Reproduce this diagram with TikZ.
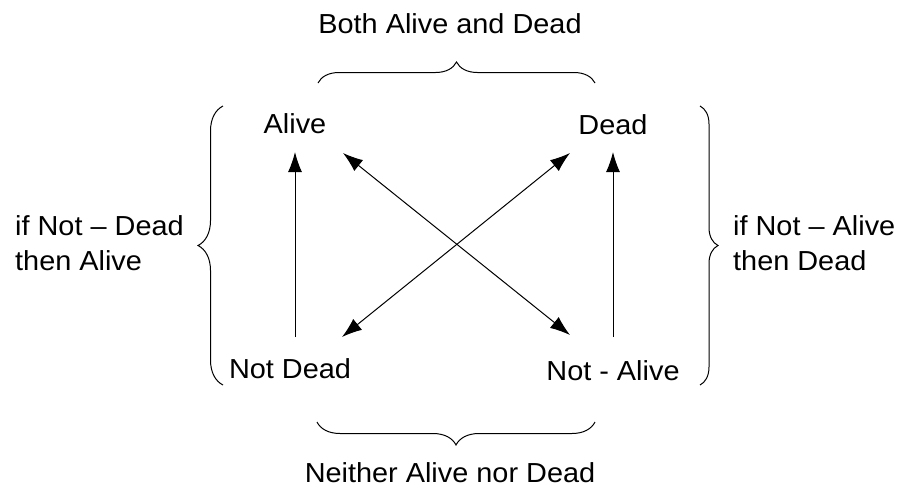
\documentclass[tikz,border=0pt]{standalone}
\usepackage{fontspec}
\setmainfont{Liberation Sans}[FakeStretch=1.05]
\usetikzlibrary{arrows.meta,positioning,calc,decorations.pathreplacing}
\usepackage{xcolor}
\definecolor{ink}{HTML}{000000}

\begin{document}
\begin{tikzpicture}[
  x=1pt, y=-1pt,
  lbl/.style={inner sep=0pt, anchor=base, text=ink, font=\fontsize{27.5}{35}\selectfont},
  side/.style={inner sep=0pt, anchor=west, align=left, text=ink, font=\fontsize{27.5}{35}\selectfont},
  arr/.style={-{Latex[length=20pt,width=14pt]}, ink, line width=1pt},
  arrs/.style={{Latex[length=20pt,width=14pt]}-{Latex[length=20pt,width=14pt]}, ink, line width=1pt},
  brc/.style={decorate, ink, line width=1pt}
]
\useasboundingbox (0,0) rectangle (908,491);

% the four states
\node[lbl] (alive) at (295,133) {Alive};
\node[lbl] (dead) at (613,134) {Dead};
\node[lbl] (notdead) at (290,378) {Not Dead};
\node[lbl] (notalive) at (613,380) {Not - Alive};

% group labels
\node[lbl] (both) at (450,33) {Both Alive and Dead};
\node[lbl] (neither) at (450,482) {Neither Alive nor Dead};
\node[side] (ifdead) at (15,243) {if Not -- Dead\\then Alive};
\node[side] (ifalive) at (733,243) {if Not -- Alive\\then Dead};

% arrows
\draw[arr] ([shift={(5,-41)}]notdead.base) -- ([shift={(0,19)}]alive.base);
\draw[arr] ([shift={(0,-43)}]notalive.base) -- ([shift={(0,18)}]dead.base);
\draw[arrs] ([shift={(48,20)}]alive.base) -- ([shift={(-43,-45)}]notalive.base);
\draw[arrs] ([shift={(-43,19)}]dead.base) -- ([shift={(52,-41)}]notdead.base);

% braces
\draw[brc, decoration={brace, amplitude=21pt}] (318,83) -- (595,83);
\draw[brc, decoration={brace, amplitude=23pt}] (595,422) -- (317,422);
\draw[brc, decoration={brace, amplitude=25pt}] (223,385) -- (223,106);
\draw[brc, decoration={brace, amplitude=18pt}] (700,106) -- (700,385);
\end{tikzpicture}
\end{document}
